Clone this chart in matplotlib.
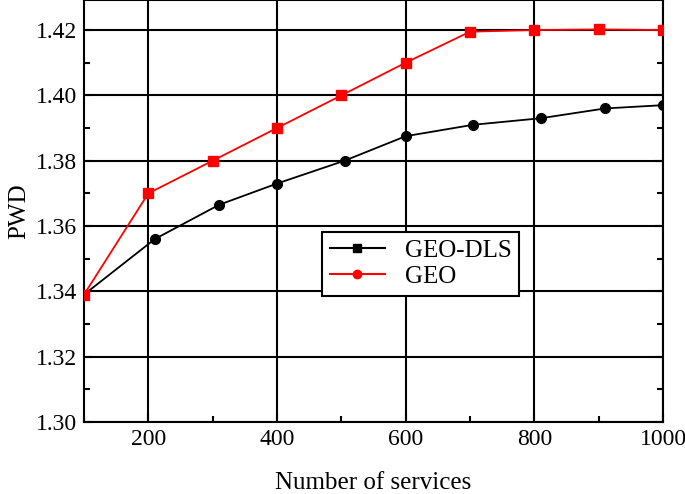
import matplotlib
matplotlib.use("Agg")
import matplotlib.pyplot as plt
from matplotlib.lines import Line2D
from matplotlib.ticker import MultipleLocator

# data
dls_x = [100, 210, 310, 400, 505, 600, 705, 810, 910, 1000]
dls_y = [1.339, 1.356, 1.3665, 1.373, 1.380, 1.3875, 1.391, 1.393, 1.396, 1.397]
geo_x = [100, 200, 300, 400, 500, 600, 700, 800, 900, 1000]
geo_y = [1.339, 1.370, 1.380, 1.390, 1.400, 1.410, 1.4195, 1.420, 1.4202, 1.420]

plt.rcParams["font.family"] = "Liberation Serif"

fig = plt.figure(figsize=(6.85, 4.94), dpi=100)
ax = fig.add_axes([84 / 685, 72 / 494, 579 / 685, 422 / 494])

ax.plot(dls_x, dls_y, "k-", marker="o", markersize=7, linewidth=1.3, zorder=3)
ax.plot(geo_x, geo_y, "r-", marker="s", markersize=7, linewidth=1.3, zorder=3)

ax.set_xlim(100, 1000)
ax.set_ylim(1.30, 1.4292)
ax.xaxis.set_major_locator(MultipleLocator(200))
ax.xaxis.set_minor_locator(MultipleLocator(100))
ax.set_yticks([1.30, 1.32, 1.34, 1.36, 1.38, 1.40, 1.42])
ax.yaxis.set_minor_locator(MultipleLocator(0.01))
ax.set_yticklabels([f"{v:.2f}" for v in ax.get_yticks()])
ax.grid(True, which="major", color="black", linewidth=1.5)
ax.tick_params(which="both", direction="in", right=True, top=False,
               labelsize=17, width=1.5)
ax.tick_params(which="major", length=6, pad=5)
ax.tick_params(which="minor", length=4)
for s in ax.spines.values():
    s.set_linewidth(1.5)

ax.set_xlabel("Number of services", fontsize=18, labelpad=16)
ax.set_ylabel("PWD", fontsize=18, labelpad=4)

# legend markers are swapped relative to the lines, as in the reference
handles = [Line2D([], [], color="black", marker="s", markersize=6, linewidth=1.5),
           Line2D([], [], color="red", marker="o", markersize=6, linewidth=1.5)]
leg = ax.legend(handles, ["GEO-DLS", "GEO"], loc="upper left",
                bbox_to_anchor=(0.39, 0.48), fontsize=18, fancybox=False,
                framealpha=1, edgecolor="black", handlelength=2.2,
                borderpad=0.3, labelspacing=0.15)
leg.get_frame().set_linewidth(1.5)

fig.savefig("out.png", dpi=100)
